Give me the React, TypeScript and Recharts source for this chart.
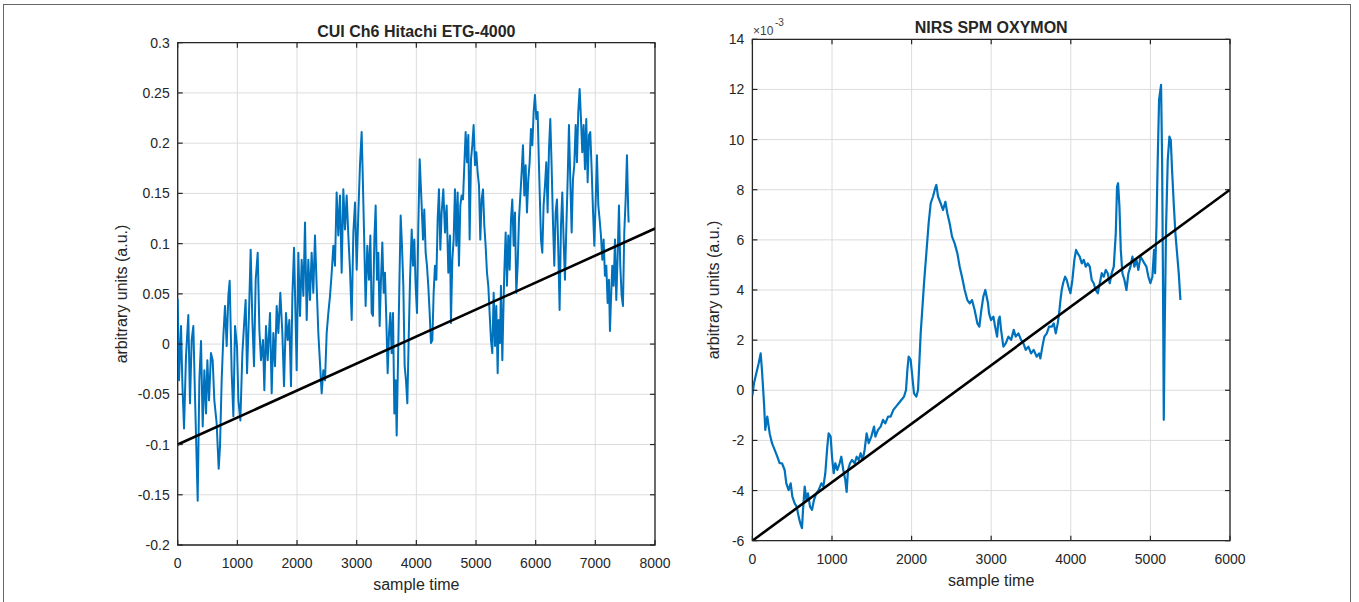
import { LineChart, Line, XAxis, YAxis, CartesianGrid, ReferenceArea } from 'recharts';

const FONT = '"Liberation Sans", Arial, Helvetica, sans-serif';
const INK = '#262626';
const BLUE = '#0072BD';

// CUI Ch6 Hitachi ETG-4000 (sample time, arbitrary units)
const cuiTime = [
  0, 22, 56, 78, 106, 139, 178, 206, 234, 262, 290, 335, 363, 391, 419, 447, 475, 497, 525, 558,
  586, 614, 653, 687, 709, 737, 765, 793, 821, 849, 871, 905, 933, 961, 994, 1017, 1050, 1084, 1117, 1139,
  1162, 1195, 1223, 1251, 1279, 1307, 1341, 1369, 1396, 1430, 1452, 1480, 1508, 1547, 1575, 1603, 1631, 1659, 1687, 1720,
  1754, 1782, 1815, 1843, 1871, 1899, 1922, 1950, 1994, 2022, 2050, 2078, 2106, 2134, 2162, 2189, 2217, 2245, 2273, 2301,
  2329, 2357, 2385, 2413, 2441, 2469, 2497, 2525, 2553, 2581, 2609, 2636, 2664, 2692, 2720, 2748, 2776, 2804, 2832, 2860,
  2888, 2916, 2944, 2972, 3000, 3028, 3055, 3083, 3100, 3122, 3150, 3178, 3206, 3229, 3251, 3273, 3296, 3318, 3340, 3363,
  3385, 3407, 3430, 3452, 3474, 3497, 3519, 3542, 3564, 3586, 3609, 3631, 3653, 3670, 3692, 3715, 3737, 3759, 3782, 3804,
  3826, 3849, 3871, 3894, 3922, 3944, 3966, 3988, 4011, 4033, 4056, 4089, 4111, 4133, 4156, 4178, 4200, 4223, 4245, 4268,
  4290, 4312, 4335, 4357, 4379, 4402, 4424, 4452, 4480, 4508, 4536, 4564, 4580, 4603, 4625, 4647, 4670, 4692, 4714, 4737,
  4759, 4782, 4804, 4826, 4849, 4871, 4893, 4916, 4938, 4960, 4983, 5005, 5027, 5050, 5072, 5094, 5117, 5139, 5161, 5184,
  5206, 5228, 5251, 5273, 5296, 5318, 5340, 5363, 5379, 5402, 5418, 5441, 5458, 5474, 5497, 5519, 5541, 5564, 5586, 5608,
  5631, 5653, 5675, 5698, 5720, 5743, 5765, 5787, 5810, 5832, 5854, 5877, 5899, 5921, 5944, 5966, 5988, 6011, 6033, 6055,
  6072, 6089, 6111, 6133, 6156, 6178, 6200, 6223, 6245, 6267, 6290, 6312, 6334, 6357, 6379, 6401, 6424, 6446, 6468, 6491,
  6513, 6536, 6558, 6580, 6603, 6625, 6647, 6670, 6692, 6714, 6737, 6759, 6781, 6804, 6826, 6848, 6871, 6893, 6915, 6938,
  6960, 6983, 7005, 7027, 7050, 7072, 7094, 7117, 7139, 7161, 7184, 7206, 7228, 7245, 7262, 7284, 7307, 7329, 7351, 7374,
  7396, 7418, 7441, 7463, 7485, 7508, 7530, 7552, 7558,
];
const cuiValue = [
  0.045, -0.036, 0.018, -0.039, -0.084, -0.012, 0.029, -0.059, 0.004, 0.018, -0.052, -0.156, -0.036, 0.003, -0.082, -0.026, -0.069, -0.016, -0.056, -0.009,
  -0.016, -0.056, -0.079, -0.124, -0.102, -0.036, 0.008, 0.038, -0.002, 0.048, 0.063, -0.029, -0.072, 0.018, -0.002, -0.056, -0.076, -0.009, 0.024, 0.044,
  -0.029, 0.031, 0.094, 0.024, -0.022, 0.064, 0.091, 0.014, -0.016, 0.004, -0.046, 0.018, -0.016, 0.031, -0.049, 0.011, -0.022, 0.038, 0.011, 0.051,
  0.011, -0.042, 0.031, 0.004, 0.024, -0.042, 0.048, 0.096, -0.026, 0.091, 0.028, 0.084, 0.048, 0.121, 0.024, 0.084, 0.044, 0.091, 0.051, 0.108,
  0.058, 0.011, -0.019, -0.049, -0.026, -0.036, 0.011, 0.031, 0.048, 0.071, 0.098, 0.078, 0.151, 0.108, 0.148, 0.071, 0.154, 0.114, 0.148, 0.108,
  0.074, 0.024, 0.111, 0.141, 0.074, 0.131, 0.178, 0.211, 0.171, 0.114, 0.038, 0.098, 0.064, 0.108, 0.031, 0.028, 0.104, 0.138, 0.064, 0.091,
  0.018, 0.064, 0.101, 0.051, 0.071, 0.024, -0.029, 0.011, 0.031, -0.009, 0.031, -0.069, -0.036, -0.091, -0.019, 0.058, 0.128, 0.098, 0.058, -0.022,
  -0.036, -0.059, 0.004, 0.064, 0.114, 0.078, 0.104, 0.058, 0.031, 0.118, 0.184, 0.138, 0.104, 0.134, 0.091, 0.078, 0.058, 0.031, 0.001, 0.004,
  0.051, 0.078, 0.064, 0.124, 0.154, 0.094, 0.131, 0.154, 0.111, 0.138, 0.071, 0.108, 0.021, 0.084, 0.104, 0.154, 0.098, 0.151, 0.078, 0.138,
  0.148, 0.144, 0.178, 0.211, 0.181, 0.208, 0.104, 0.184, 0.198, 0.218, 0.178, 0.191, 0.171, 0.158, 0.104, 0.144, 0.154, 0.118, 0.098, 0.071,
  0.058, 0.031, 0.004, -0.009, 0.051, -0.002, 0.038, -0.029, 0.024, 0.001, 0.058, -0.016, 0.031, 0.071, 0.111, 0.058, 0.108, 0.074, 0.124, 0.144,
  0.098, 0.131, 0.051, 0.078, 0.124, 0.148, 0.171, 0.198, 0.148, 0.178, 0.131, 0.164, 0.181, 0.214, 0.198, 0.231, 0.248, 0.224, 0.231, 0.178,
  0.141, 0.104, 0.091, 0.138, 0.158, 0.181, 0.131, 0.194, 0.224, 0.178, 0.121, 0.078, 0.131, 0.144, 0.094, 0.034, 0.118, 0.151, 0.104, 0.064,
  0.114, 0.164, 0.218, 0.164, 0.111, 0.164, 0.178, 0.218, 0.181, 0.231, 0.254, 0.224, 0.191, 0.218, 0.174, 0.224, 0.161, 0.208, 0.211, 0.174,
  0.134, 0.098, 0.141, 0.188, 0.138, 0.124, 0.108, 0.084, 0.104, 0.068, 0.078, 0.041, 0.064, 0.013, 0.044, 0.078, 0.058, 0.104, 0.044, 0.088,
  0.138, 0.078, 0.048, 0.038, 0.111, 0.144, 0.188, 0.131, 0.121,
];
const cuiFitTime = [0, 8000];
const cuiFitValue = [-0.1, 0.115];

// NIRS SPM OXYMON (values in units of 1e-3)
const nirsTime = [
  0, 20, 49, 79, 104, 120, 146, 162, 187, 217, 246, 280, 313, 342, 372, 405, 426, 455, 481, 502,
  531, 556, 581, 602, 623, 636, 657, 678, 698, 724, 749, 774, 803, 832, 866, 891, 916, 941, 958, 983,
  1000, 1021, 1042, 1067, 1096, 1117, 1142, 1167, 1184, 1201, 1226, 1251, 1285, 1310, 1335, 1360, 1385, 1410, 1435, 1461,
  1494, 1528, 1545, 1578, 1611, 1641, 1670, 1704, 1737, 1771, 1804, 1838, 1871, 1905, 1930, 1947, 1963, 1988, 2009, 2030,
  2060, 2081, 2097, 2114, 2131, 2156, 2185, 2214, 2240, 2269, 2290, 2311, 2332, 2365, 2395, 2424, 2449, 2478, 2508, 2541,
  2575, 2604, 2633, 2667, 2700, 2730, 2759, 2792, 2826, 2851, 2876, 2901, 2926, 2960, 2973, 2998, 3028, 3049, 3074, 3091,
  3107, 3124, 3153, 3183, 3216, 3250, 3283, 3308, 3342, 3375, 3405, 3434, 3467, 3501, 3534, 3572, 3601, 3618, 3643, 3668,
  3698, 3727, 3761, 3786, 3811, 3836, 3853, 3870, 3886, 3903, 3928, 3949, 3970, 3995, 4020, 4045, 4066, 4087, 4112, 4138,
  4163, 4188, 4213, 4238, 4263, 4288, 4313, 4339, 4364, 4389, 4414, 4439, 4464, 4489, 4514, 4540, 4565, 4581, 4594, 4611,
  4628, 4648, 4674, 4699, 4724, 4749, 4774, 4799, 4824, 4849, 4875, 4900, 4925, 4950, 4975, 5000, 5025, 5046, 5059, 5076,
  5092, 5109, 5134, 5147, 5159, 5168, 5180, 5197, 5218, 5239, 5256, 5272, 5293, 5314, 5335, 5356, 5377,
];
const nirsValue = [
  -0.2, 0.28, 0.68, 1.08, 1.47, 0.81, -0.52, -1.58, -1.05, -1.72, -2.11, -2.38, -2.65, -2.91, -2.91, -3.18, -3.71, -3.98, -3.71, -4.24,
  -4.51, -4.64, -5.04, -5.31, -5.5, -4.77, -3.84, -4.37, -4.11, -4.64, -4.77, -4.37, -4.11, -3.98, -3.71, -3.84, -3.31, -2.25, -1.72, -1.85,
  -2.65, -3.31, -2.91, -3.18, -2.91, -2.65, -3.18, -3.58, -4.05, -3.18, -2.91, -2.78, -2.91, -2.65, -2.78, -2.51, -2.78, -2.38, -1.72, -2.11,
  -1.85, -1.45, -1.85, -1.58, -1.45, -1.18, -1.32, -1.05, -1.05, -0.78, -0.65, -0.52, -0.39, -0.25, 0.01, 0.81, 1.34, 1.21, 0.55, -0.12,
  -0.25, 0.01, 1.08, 2.27, 3.07, 4.27, 5.46, 6.66, 7.46, 7.73, 7.99, 8.19, 7.73, 7.46, 7.19, 7.52, 7.06, 6.66, 6.13, 5.86,
  5.46, 4.93, 4.53, 4.0, 3.6, 3.47, 3.6, 3.2, 2.67, 2.54, 3.2, 3.73, 4.0, 3.47, 3.07, 2.8, 2.94, 2.54, 2.14, 2.8,
  2.94, 2.41, 1.74, 1.87, 2.14, 2.01, 2.41, 2.14, 2.27, 2.01, 1.87, 1.61, 1.74, 1.47, 1.61, 1.34, 1.47, 1.27, 1.74, 2.14,
  2.27, 2.54, 2.54, 2.67, 2.27, 2.67, 3.07, 3.6, 4.0, 4.27, 4.53, 4.4, 4.13, 3.87, 4.4, 5.2, 5.6, 5.46, 5.33, 5.06,
  5.2, 4.93, 5.06, 4.93, 4.4, 4.27, 4.0, 3.87, 4.27, 4.67, 4.53, 4.8, 4.67, 4.27, 4.67, 4.93, 6.26, 8.12, 8.26, 7.33,
  5.6, 4.67, 4.4, 4.0, 4.67, 4.93, 5.33, 4.93, 5.2, 4.8, 5.33, 5.2, 5.06, 4.93, 4.53, 4.27, 4.53, 5.6, 4.67, 6.53,
  9.19, 11.58, 12.18, 9.19, 3.87, -1.18, 2.54, 6.53, 9.19, 10.12, 9.98, 8.79, 7.46, 6.26, 5.46, 4.67, 3.6,
];
const nirsFitTime = [0, 6000];
const nirsFitValue = [-6, 8];

const cuiXTicks = [0, 1000, 2000, 3000, 4000, 5000, 6000, 7000, 8000];
const cuiYTicks = [-0.2, -0.15, -0.1, -0.05, 0, 0.05, 0.1, 0.15, 0.2, 0.25, 0.3];
const nirsXTicks = [0, 1000, 2000, 3000, 4000, 5000, 6000];
const nirsYTicks = [-6, -4, -2, 0, 2, 4, 6, 8, 10, 12, 14];

const cuiData = cuiTime.map((t, i) => ({ t, v: cuiValue[i] }));
const cuiFit = cuiFitTime.map((t, i) => ({ t, v: cuiFitValue[i] }));
const nirsData = nirsTime.map((t, i) => ({ t, v: nirsValue[i] }));
const nirsFit = nirsFitTime.map((t, i) => ({ t, v: nirsFitValue[i] }));

const TICK_LEN = 5;

// y tick: label + inward tick marks on both sides of the box
function makeYTick(plotW: number, gap: number) {
  return (props: any) => {
    const { x, y, payload } = props;
    const ax = x + gap;
    return (
      <g>
        <line x1={ax} x2={ax + TICK_LEN} y1={y} y2={y} stroke={INK} strokeWidth={1.2} />
        <line x1={ax + plotW - TICK_LEN} x2={ax + plotW} y1={y} y2={y} stroke={INK} strokeWidth={1.2} />
        <text x={x} y={y} textAnchor="end" dominantBaseline="central" fill={INK} fontSize={14} fontFamily={FONT}>
          {String(payload.value)}
        </text>
      </g>
    );
  };
}

function makeXTick(plotH: number, drop: number) {
  return (props: any) => {
    const { x, y, payload } = props;
    return (
      <g>
        <line x1={x} x2={x} y1={y} y2={y - TICK_LEN} stroke={INK} strokeWidth={1.2} />
        <line x1={x} x2={x} y1={y - plotH} y2={y - plotH + TICK_LEN} stroke={INK} strokeWidth={1.2} />
        <text x={x} y={y + drop} textAnchor="middle" dominantBaseline="central" fill={INK} fontSize={14} fontFamily={FONT}>
          {String(payload.value)}
        </text>
      </g>
    );
  };
}

const textBase: React.CSSProperties = {
  position: 'absolute',
  fontFamily: FONT,
  color: INK,
  whiteSpace: 'nowrap',
  lineHeight: 1,
};

export default function App() {
  // left panel plot box: x 177.7..655, y 42.7..545
  const L = { left: 177.7, right: 655, top: 42.7, bottom: 545 };
  // right panel plot box: x 752.4..1230, y 39.3..540.7
  const R = { left: 752.4, right: 1230, top: 39.3, bottom: 540.7 };
  const YW = 40;
  const XH = 30;

  return (
    <div style={{ position: 'fixed', left: 0, top: 0, width: 1359, height: 602, background: '#fff', overflow: 'hidden' }}>
      <div style={{ position: 'absolute', left: 3, top: 4, width: 1348, height: 700, border: '1.5px solid #666', boxSizing: 'border-box' }} />

      {/* Left: CUI Ch6 Hitachi ETG-4000 */}
      <div style={{ position: 'absolute', left: 0, top: 0 }}>
        <LineChart
          width={700}
          height={602}
          margin={{ top: L.top, right: 700 - L.right, left: L.left - YW, bottom: 602 - L.bottom - XH }}
        >
          <CartesianGrid stroke="#dcdcdc" strokeWidth={1} />
          <XAxis
            dataKey="t"
            type="number"
            domain={[0, 8000]}
            ticks={cuiXTicks}
            allowDataOverflow
            height={XH}
            axisLine={false}
            tickLine={false}
            tickSize={0}
            tickMargin={0}
            tick={makeXTick(L.bottom - L.top, 18)}
            interval={0}
          />
          <YAxis
            type="number"
            domain={[-0.2, 0.3]}
            ticks={cuiYTicks}
            allowDataOverflow
            width={YW}
            axisLine={false}
            tickLine={false}
            tickSize={0}
            tickMargin={8}
            tick={makeYTick(L.right - L.left, 8)}
            interval={0}
          />
          <Line data={cuiData} dataKey="v" stroke={BLUE} strokeWidth={2} dot={false} isAnimationActive={false} strokeLinejoin="round" />
          <Line data={cuiFit} dataKey="v" stroke="#000" strokeWidth={2.6} dot={false} isAnimationActive={false} />
          <ReferenceArea x1={0} x2={8000} y1={-0.2} y2={0.3} fill="none" stroke={INK} strokeWidth={1.3} ifOverflow="visible" />
        </LineChart>
      </div>

      {/* Right: NIRS SPM OXYMON */}
      <div style={{ position: 'absolute', left: 700, top: 0 }}>
        <LineChart
          width={659}
          height={602}
          margin={{ top: R.top, right: 659 - (R.right - 700), left: R.left - 700 - YW, bottom: 602 - R.bottom - XH }}
        >
          <CartesianGrid stroke="#dcdcdc" strokeWidth={1} />
          <XAxis
            dataKey="t"
            type="number"
            domain={[0, 6000]}
            ticks={nirsXTicks}
            allowDataOverflow
            height={XH}
            axisLine={false}
            tickLine={false}
            tickSize={0}
            tickMargin={0}
            tick={makeXTick(R.bottom - R.top, 18)}
            interval={0}
          />
          <YAxis
            type="number"
            domain={[-6, 14]}
            ticks={nirsYTicks}
            allowDataOverflow
            width={YW}
            axisLine={false}
            tickLine={false}
            tickSize={0}
            tickMargin={8}
            tick={makeYTick(R.right - R.left, 8)}
            interval={0}
          />
          <Line data={nirsData} dataKey="v" stroke={BLUE} strokeWidth={2.2} dot={false} isAnimationActive={false} strokeLinejoin="round" />
          <Line data={nirsFit} dataKey="v" stroke="#000" strokeWidth={2.6} dot={false} isAnimationActive={false} />
          <ReferenceArea x1={0} x2={6000} y1={-6} y2={14} fill="none" stroke={INK} strokeWidth={1.3} ifOverflow="visible" />
        </LineChart>
      </div>

      {/* titles */}
      <div style={{ ...textBase, left: (L.left + L.right) / 2, top: 32, transform: 'translate(-50%, -50%)', fontSize: 16, fontWeight: 700 }}>
        CUI Ch6 Hitachi ETG-4000
      </div>
      <div style={{ ...textBase, left: (R.left + R.right) / 2, top: 28, transform: 'translate(-50%, -50%)', fontSize: 16, fontWeight: 700 }}>
        NIRS SPM OXYMON
      </div>

      {/* exponent */}
      <div style={{ ...textBase, left: 753, top: 25, fontSize: 12, color: '#404040' }}>
        ×10
      </div>
      <div style={{ ...textBase, left: 775, top: 18, fontSize: 10, color: '#404040' }}>
        -3
      </div>

      {/* axis labels */}
      <div style={{ ...textBase, left: (L.left + L.right) / 2, top: 585, transform: 'translate(-50%, -50%)', fontSize: 16 }}>
        sample time
      </div>
      <div style={{ ...textBase, left: (R.left + R.right) / 2, top: 581, transform: 'translate(-50%, -50%)', fontSize: 16 }}>
        sample time
      </div>
      <div style={{ ...textBase, left: 122, top: (L.top + L.bottom) / 2, transform: 'translate(-50%, -50%) rotate(-90deg)', fontSize: 16 }}>
        arbitrary units (a.u.)
      </div>
      <div style={{ ...textBase, left: 714, top: (R.top + R.bottom) / 2, transform: 'translate(-50%, -50%) rotate(-90deg)', fontSize: 16 }}>
        arbitrary units (a.u.)
      </div>
    </div>
  );
}
